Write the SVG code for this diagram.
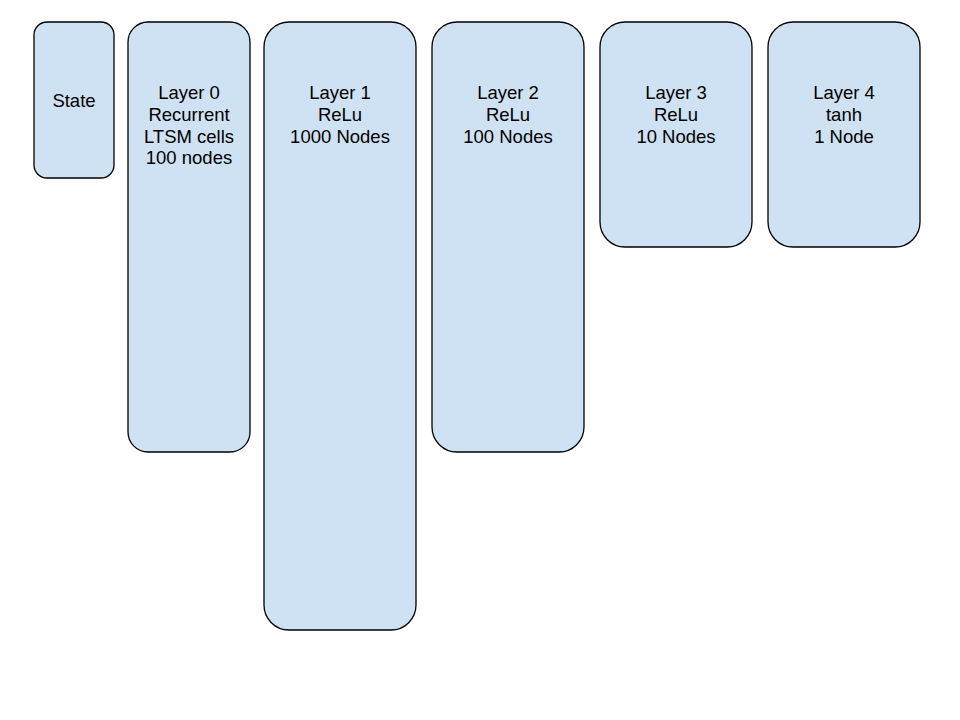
<svg xmlns="http://www.w3.org/2000/svg" width="960" height="720" viewBox="0 0 960 720">
<style>
.box{fill:#cfe2f3;stroke:#000;stroke-width:1.3}
.t{font-family:"Liberation Sans",Arial,sans-serif;font-size:18.5px;fill:#000;text-anchor:middle}
</style>
<rect width="960" height="720" fill="#fff"/>
<g id="state"><rect class="box" x="34" y="22" width="80" height="156" rx="13"/><text class="t" x="74" y="107">State</text></g>
<g id="layer0"><rect class="box" x="128" y="22" width="122" height="430" rx="20"/><text class="t" x="189" y="99">Layer 0</text><text class="t" x="189" y="121">Recurrent</text><text class="t" x="189" y="143">LTSM cells</text><text class="t" x="189" y="164">100 nodes</text></g>
<g id="layer1"><rect class="box" x="264" y="22" width="152" height="608" rx="25"/><text class="t" x="340" y="99">Layer 1</text><text class="t" x="340" y="121">ReLu</text><text class="t" x="340" y="143">1000 Nodes</text></g>
<g id="layer2"><rect class="box" x="432" y="22" width="152" height="430" rx="25"/><text class="t" x="508" y="99">Layer 2</text><text class="t" x="508" y="121">ReLu</text><text class="t" x="508" y="143">100 Nodes</text></g>
<g id="layer3"><rect class="box" x="600" y="22" width="152" height="225" rx="25"/><text class="t" x="676" y="99">Layer 3</text><text class="t" x="676" y="121">ReLu</text><text class="t" x="676" y="143">10 Nodes</text></g>
<g id="layer4"><rect class="box" x="768" y="22" width="152" height="225" rx="25"/><text class="t" x="844" y="99">Layer 4</text><text class="t" x="844" y="121">tanh</text><text class="t" x="844" y="143">1 Node</text></g>
<g id="connectors"></g>
</svg>
